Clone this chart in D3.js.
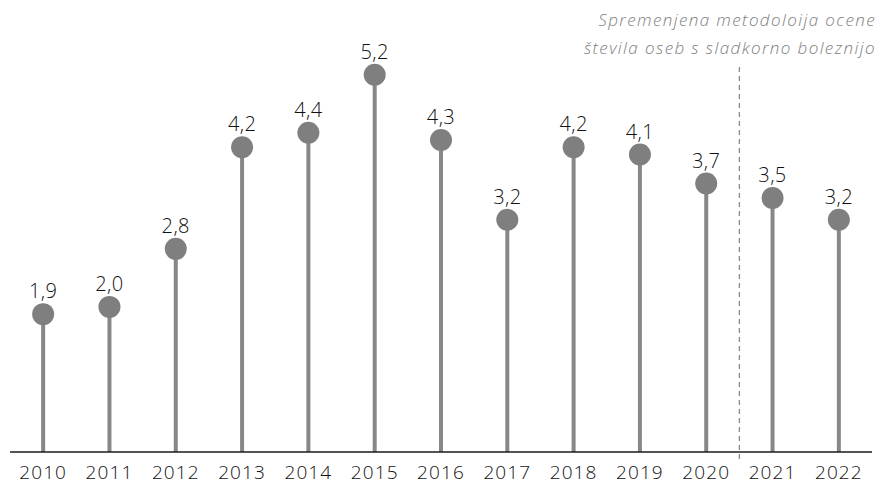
<!DOCTYPE html>
<html lang="en">
<head>
<meta charset="utf-8">
<title>Lollipop</title>
<script src="https://d3js.org/d3.v7.min.js"></script>
<style>
    body { margin: 0; background: #fff; }
    svg { display: block; }
</style>
</head>
<body>
<svg id="chart" width="882" height="485"></svg>
<script>

    var years = ["2010", "2011", "2012", "2013", "2014", "2015", "2016", "2017", "2018", "2019", "2020", "2021", "2022"];
    var values = [1.9, 2.0, 2.8, 4.2, 4.4, 5.2, 4.3, 3.2, 4.2, 4.1, 3.7, 3.5, 3.2];
    var noteLines = ["Spremenjena metodoloija ocene", "števila oseb s sladkorno boleznijo"];
    var breakAfter = "2020";

    var width = 882, height = 485;
    var left = 10, right = 872, base = 452;

    var svg = d3.select("#chart");

    var x = d3.scaleBand().domain(years).range([left, right]);
    var y = d3.scaleLinear().domain([0, 6.23]).range([base, 0]);

    var data = years.map(function (d, i) { return { year: d, value: values[i] }; });

    // stems
    svg.selectAll("line.stem")
        .data(data)
        .enter()
        .append("line")
        .attr("class", "stem")
        .attr("x1", d => x(d.year) + x.bandwidth() / 2)
        .attr("x2", d => x(d.year) + x.bandwidth() / 2)
        .attr("y1", base)
        .attr("y2", d => y(d.value))
        .style("stroke", "#878787")
        .style("stroke-width", 4);

    // baseline
    svg.append("line")
        .attr("x1", left).attr("x2", right)
        .attr("y1", base).attr("y2", base)
        .style("stroke", "#1a1a1a")
        .style("stroke-width", 1.5);

    // dashed separator
    var sepX = x(breakAfter) + x.bandwidth();
    svg.append("line")
        .attr("x1", sepX).attr("x2", sepX)
        .attr("y1", 67).attr("y2", 463)
        .style("stroke", "#8c8c8c")
        .style("stroke-width", 1.3)
        .style("stroke-dasharray", "5,4");

    svg.selectAll("circle")
        .data(data)
        .enter()
        .append("circle")
        .attr("cx", d => x(d.year) + x.bandwidth() / 2)
        .attr("cy", d => y(d.value))
        .attr("r", 11)
        .style("fill", "#7f7f7f");

    svg.selectAll("text.val")
        .data(data)
        .enter()
        .append("text")
        .attr("class", "val")
        .attr("x", d => x(d.year) + x.bandwidth() / 2)
        .attr("y", d => y(d.value) - 16)
        .attr("text-anchor", "middle")
        .style("font-family", "'Open Sans', sans-serif")
        .style("font-weight", 300)
        .style("font-size", "20px")
        .style("letter-spacing", "0.4px")
        .style("fill", "#111")
        .text(d => d.value.toFixed(1).replace(".", ","));

    svg.selectAll("text.year")
        .data(years)
        .enter()
        .append("text")
        .attr("class", "year")
        .attr("x", d => x(d) + x.bandwidth() / 2)
        .attr("y", 479)
        .attr("text-anchor", "middle")
        .style("font-family", "'Open Sans', sans-serif")
        .style("font-weight", 300)
        .style("font-size", "19px")
        .style("letter-spacing", "1.1px")
        .style("fill", "#111")
        .text(d => d);

    svg.selectAll("text.note")
        .data(noteLines)
        .enter()
        .append("text")
        .attr("class", "note")
        .attr("x", 876)
        .attr("y", (d, i) => 26 + i * 28)
        .attr("text-anchor", "end")
        .style("font-family", "'Open Sans', sans-serif")
        .style("font-style", "italic")
        .style("font-weight", 300)
        .style("font-size", "17px")
        .style("letter-spacing", "1.4px")
        .style("fill", "#808080")
        .text(d => d);

</script>
</body>
</html>
